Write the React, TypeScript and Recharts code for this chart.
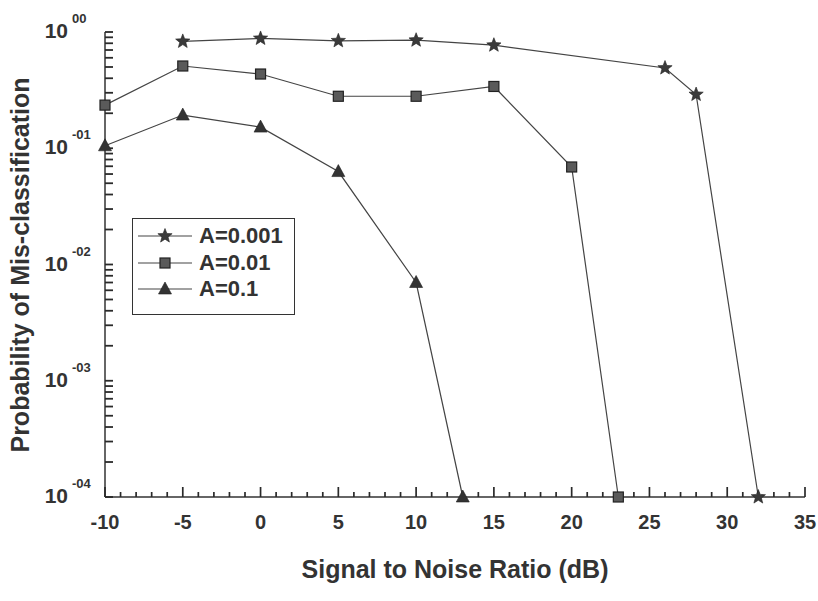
import React from 'react';
import { LineChart, Line, XAxis, YAxis, Legend, Label, ReferenceDot } from 'recharts';

// SNR (dB) and probability of mis-classification, one pair of arrays per curve
const snrA001 = [-5, 0, 5, 10, 15, 26, 28, 32];
const pA001 = [0.83, 0.88, 0.84, 0.85, 0.77, 0.49, 0.29, 0.0001];

const snrA01 = [-10, -5, 0, 5, 10, 15, 20, 23];
const pA01 = [0.235, 0.51, 0.435, 0.28, 0.28, 0.34, 0.069, 0.0001];

const snrA1 = [-10, -5, 0, 5, 10, 13];
const pA1 = [0.105, 0.193, 0.152, 0.063, 0.007, 0.0001];

const seriesNames = ['A=0.001', 'A=0.01', 'A=0.1'];

const xMajorTicks = [-10, -5, 0, 5, 10, 15, 20, 25, 30, 35];
const yMajorTicks = [1, 0.1, 0.01, 0.001, 0.0001];
const yExponents = ['00', '-01', '-02', '-03', '-04'];

// minor ticks: every dB on x, 2..9 per decade on y
const xTicks: number[] = [];
for (let v = -10; v <= 35; v++) xTicks.push(v);
const yTicks: number[] = [];
yMajorTicks.slice(1).forEach((d) => {
  for (let k = 1; k <= 9; k++) yTicks.push(+(d * k).toPrecision(3));
});
yTicks.push(1);

const toRows = (xs: number[], ys: number[]) => xs.map((snr, i) => ({ snr, p: ys[i] }));
const dataA001 = toRows(snrA001, pA001);
const dataA01 = toRows(snrA01, pA01);
const dataA1 = toRows(snrA1, pA1);

const INK = '#333';
const FONT = '"Liberation Sans", Arial, sans-serif';
const PLOT_LEFT = 105;

const starPath = (cx: number, cy: number, ro = 7.5, ri = 3.2) => {
  let d = '';
  for (let i = 0; i < 10; i++) {
    const r = i % 2 === 0 ? ro : ri;
    const a = -Math.PI / 2 + (i * Math.PI) / 5;
    d += (i === 0 ? 'M' : 'L') + (cx + r * Math.cos(a)).toFixed(2) + ',' + (cy + r * Math.sin(a)).toFixed(2);
  }
  return d + 'Z';
};

const Star = ({ cx, cy }: { cx: number; cy: number }) => <path d={starPath(cx, cy)} fill="#3a3a3a" stroke="#222" strokeWidth={0.6} />;
const Square = ({ cx, cy }: { cx: number; cy: number }) => (
  <rect x={cx - 5} y={cy - 5} width={10} height={10} fill="#5a5a5a" stroke="#222" strokeWidth={1.2} />
);
const Triangle = ({ cx, cy }: { cx: number; cy: number }) => (
  <path d={`M${cx},${cy - 7}L${cx + 6.5},${cy + 5}L${cx - 6.5},${cy + 5}Z`} fill="#333" stroke="#222" strokeWidth={0.6} />
);

const markers = [Star, Square, Triangle];

const dotOf = (i: number) => (props: any) => {
  const M = markers[i];
  if (props.cx == null || props.cy == null) return <g key={`d${i}-${props.index}`} />;
  return (
    <g key={`d${i}-${props.index}`}>
      <M cx={props.cx} cy={props.cy} />
    </g>
  );
};

// inward x tick marks, placed through the chart scale with ReferenceDot
const xMark = (len: number) => (p: any) => <path d={`M${p.cx},${p.cy}V${p.cy - len}`} stroke="#2a2a2a" strokeWidth={1.7} fill="none" />;

const XTick = (props: any) => {
  const { x, y, payload } = props;
  if (!xMajorTicks.includes(payload.value)) return <g />;
  return (
    <text x={x} y={y + 32} textAnchor="middle" fill={INK} stroke="none" fontSize={20} fontWeight="bold" fontFamily={FONT}>
      {payload.value}
    </text>
  );
};

const YTick = (props: any) => {
  const { y, payload } = props;
  const x = PLOT_LEFT;
  const i = yMajorTicks.indexOf(payload.value);
  if (i < 0) return <g />;
  return (
    <g fill={INK} stroke="none" fontWeight="bold" fontFamily={FONT}>
      <text x={x - 37} y={y + 6} textAnchor="end" fontSize={21}>
        10
      </text>
      <text x={x - 33} y={y - 9} textAnchor="start" fontSize={13}>
        {yExponents[i]}
      </text>
    </g>
  );
};

const renderLegend = () => (
  <div
    style={{
      width: 163,
      height: 97,
      boxSizing: 'border-box',
      border: `1.5px solid ${INK}`,
      background: '#fff',
      paddingTop: 4,
      fontFamily: FONT,
      fontWeight: 'bold',
      fontSize: 22,
      color: INK,
    }}
  >
    {seriesNames.map((name, i) => {
      const M = markers[i];
      return (
        <div key={name} style={{ display: 'flex', alignItems: 'center', height: 26.5 }}>
          <svg width={62} height={20} style={{ marginLeft: 4 }}>
            <line x1={1} x2={55} y1={10} y2={10} stroke="#444" strokeWidth={1.2} />
            <M cx={28} cy={10} />
          </svg>
          <span style={{ lineHeight: '26px' }}>{name}</span>
        </div>
      );
    })}
  </div>
);

export default function App() {
  return (
    <div style={{ position: 'absolute', left: 0, top: 0, background: '#fff' }}>
      <LineChart width={818} height={601} margin={{ top: 32, right: 13, left: 0, bottom: 0 }}>
        <XAxis
          dataKey="snr"
          type="number"
          domain={[-10, 35]}
          ticks={xTicks}
          interval={0}
          height={104}
          tickSize={0}
          tickMargin={0}
          tickLine={false}
          tick={<XTick />}
          axisLine={{ stroke: INK, strokeWidth: 1.5 }}
        >
          <Label
            content={() => (
              <text x={455} y={578} textAnchor="middle" fill={INK} fontSize={25} fontWeight="bold" fontFamily={FONT}>
                Signal to Noise Ratio (dB)
              </text>
            )}
          />
        </XAxis>
        <XAxis
          xAxisId="top"
          orientation="top"
          type="number"
          domain={[-10, 35]}
          height={0}
          tick={false}
          tickLine={false}
          axisLine={{ stroke: INK, strokeWidth: 1.5 }}
        />
        <YAxis
          scale="log"
          type="number"
          domain={[0.0001, 1]}
          ticks={yTicks}
          interval={0}
          width={PLOT_LEFT}
          tickSize={-8}
          tickMargin={8}
          tickLine={{ stroke: '#2a2a2a', strokeWidth: 1.8 }}
          tick={<YTick />}
          axisLine={{ stroke: INK, strokeWidth: 1.5 }}
        >
          <Label
            content={() => (
              <text x={29} y={265} transform="rotate(-90, 29, 265)" textAnchor="middle" fill={INK} fontSize={25} fontWeight="bold" fontFamily={FONT}>
                Probability of Mis-classification
              </text>
            )}
          />
        </YAxis>
        <YAxis yAxisId="right" orientation="right" type="number" domain={[0, 1]} width={0} tick={false} tickLine={false} axisLine={{ stroke: INK, strokeWidth: 1.5 }} />
        {xTicks.map((v) => (
          <ReferenceDot key={`xt${v}`} x={v} y={0.0001} r={0} ifOverflow="visible" shape={xMark(xMajorTicks.includes(v) ? 10 : 5)} />
        ))}
        <Legend layout="vertical" align="center" verticalAlign="middle" content={renderLegend} wrapperStyle={{ left: 132, top: 218, width: 163, height: 97 }} />
        <Line data={dataA001} dataKey="p" name={seriesNames[0]} type="linear" stroke="#444" strokeWidth={1.2} dot={dotOf(0)} activeDot={false} isAnimationActive={false} />
        <Line data={dataA01} dataKey="p" name={seriesNames[1]} type="linear" stroke="#444" strokeWidth={1.2} dot={dotOf(1)} activeDot={false} isAnimationActive={false} />
        <Line data={dataA1} dataKey="p" name={seriesNames[2]} type="linear" stroke="#444" strokeWidth={1.2} dot={dotOf(2)} activeDot={false} isAnimationActive={false} />
      </LineChart>
    </div>
  );
}
